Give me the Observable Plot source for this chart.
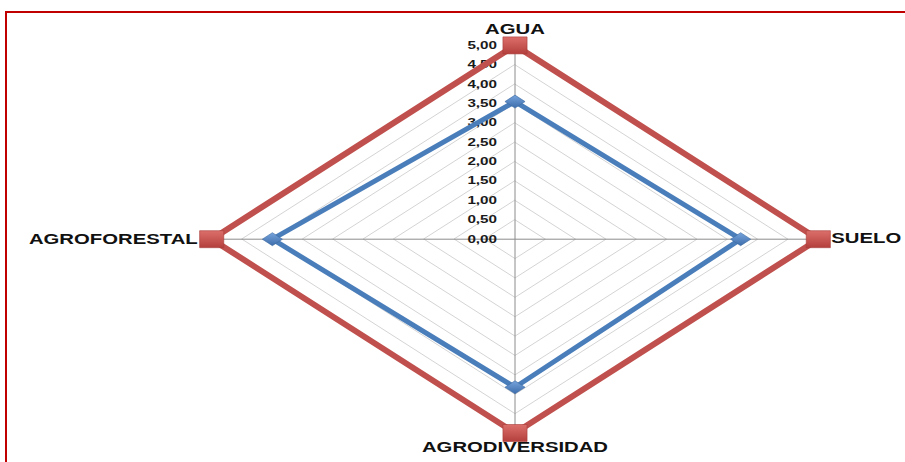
<!DOCTYPE html>
<html>
<head>
<meta charset="utf-8">
<script src="https://cdn.jsdelivr.net/npm/d3@7"></script>
<script src="https://cdn.jsdelivr.net/npm/@observablehq/plot@0.6"></script>
<style>
  body { margin: 0; background: #fff; }
  #chart { position: relative; width: 905px; height: 462px; overflow: hidden; }
  #frame { position: absolute; left: 5px; top: 11px; right: -10px; bottom: -10px;
           border-top: 2px solid #c00000; border-left: 2px solid #c00000; pointer-events: none; }
  #chart svg { display: block; }
</style>
</head>
<body>
<div id="chart"><div id="frame"></div></div>
<script>
// Radar axes, clockwise from the top
const categories = ["AGUA", "SUELO", "AGRODIVERSIDAD", "AGROFORESTAL"];
// Reference (optimum) series and the evaluated series
const maximo = [5, 5, 5, 5];
const actual = [3.55, 3.72, 3.82, 4.0];
// Radial ticks
const tickValues = [0, 0.5, 1, 1.5, 2, 2.5, 3, 3.5, 4, 4.5, 5];
const tickLabels = ["0,00", "0,50", "1,00", "1,50", "2,00", "2,50", "3,00", "3,50", "4,00", "4,50", "5,00"];

const n = categories.length;
const angle = i => (i * 2 * Math.PI) / n;
const polar = (v, i) => ({ x: v * Math.sin(angle(i)), y: v * Math.cos(angle(i)) });

const seriesPoints = (values, name) =>
  values.map((v, i) => ({ serie: name, categoria: categories[i], valor: v, ...polar(v, i) }));
const maxPts = seriesPoints(maximo, "max");
const actPts = seriesPoints(actual, "actual");

const rings = tickValues.filter(t => t > 0).flatMap(t =>
  categories.map((c, i) => ({ nivel: t, ...polar(t, i) })));
const spokes = categories.map((c, i) => ({ ...polar(tickValues[tickValues.length - 1], i) }));
const ticks = tickValues.map((t, k) => ({ label: tickLabels[k], x: 0, y: t }));
const labels = categories.map((c, i) => ({ categoria: c, ...polar(maximo[i], i) }));

// Stretched marker shapes
const rectSymbol = { draw(ctx, size) { const r = Math.sqrt(size / Math.PI); const w = r * 1.42;
  ctx.moveTo(-w, -r); ctx.lineTo(w, -r); ctx.lineTo(w, r); ctx.lineTo(-w, r); ctx.closePath(); } };
const diamondSymbol = { draw(ctx, size) { const r = Math.sqrt(size / Math.PI); const w = r * 1.55;
  ctx.moveTo(0, -r); ctx.lineTo(w, 0); ctx.lineTo(0, r); ctx.lineTo(-w, 0); ctx.closePath(); } };

const font = "'Liberation Sans', Arial, sans-serif";
const labelStyle = { fontSize: 14, fontWeight: "bold", fontFamily: font, fill: "#111" };

const svg = Plot.plot({
  width: 905,
  height: 462,
  margin: 0,
  x: { domain: [-5, 5], range: [211.2, 817.8], axis: null },
  y: { domain: [-5, 5], range: [432.5, 44.9], axis: null },
  marks: [
    Plot.line(rings, { x: "x", y: "y", z: "nivel", curve: "linear-closed", stroke: "#d4d4d4", strokeWidth: 1 }),
    Plot.link(spokes, { x1: 0, y1: 0, x2: "x", y2: "y", stroke: "#8c8c8c", strokeWidth: 1 }),
    Plot.text(ticks, { x: "x", y: "y", text: "label", textAnchor: "end", dx: -18,
      fontSize: 10.5, fontWeight: "bold", fontFamily: font, fill: "#1a1a1a" }),
    Plot.line(maxPts, { x: "x", y: "y", curve: "linear-closed", stroke: "#c0504d", strokeWidth: 6, strokeLinejoin: "miter" }),
    Plot.line(actPts, { x: "x", y: "y", curve: "linear-closed", stroke: "#4a7ebb", strokeWidth: 5, strokeLinejoin: "miter" }),
    Plot.dot(maxPts, { x: "x", y: "y", symbol: rectSymbol, r: 8.5, fill: "#c0504d", stroke: "#a63c39", strokeWidth: 0.6 }),
    Plot.dot(actPts, { x: "x", y: "y", symbol: diamondSymbol, r: 6.5, fill: "#4f81bd", stroke: "#3d6aa0", strokeWidth: 0.6 }),
    Plot.text(labels.filter((d, i) => i === 0), { x: "x", y: "y", text: "categoria", dy: -16, ...labelStyle }),
    Plot.text(labels.filter((d, i) => i === 1), { x: "x", y: "y", text: "categoria", textAnchor: "start", dx: 13, dy: -1, ...labelStyle }),
    Plot.text(labels.filter((d, i) => i === 2), { x: "x", y: "y", text: "categoria", dy: 15, ...labelStyle }),
    Plot.text(labels.filter((d, i) => i === 3), { x: "x", y: "y", text: "categoria", textAnchor: "end", dx: -14, ...labelStyle })
  ]
});

// Glossy fills for the markers
const defs = d3.select(svg).insert("defs", ":first-child");
const grad = (id, top, bottom) => {
  const g = defs.append("linearGradient").attr("id", id).attr("x1", 0).attr("y1", 0).attr("x2", 0).attr("y2", 1);
  g.append("stop").attr("offset", "0%").attr("stop-color", top);
  g.append("stop").attr("offset", "100%").attr("stop-color", bottom);
};
grad("gradRojo", "#dc6f6b", "#b43f3c");
grad("gradAzul", "#76a3dc", "#3c6dab");
const dotGroups = svg.querySelectorAll('g[aria-label="dot"]');
if (dotGroups.length >= 2) {
  d3.select(dotGroups[0]).selectAll("path").attr("fill", "url(#gradRojo)");
  d3.select(dotGroups[1]).selectAll("path").attr("fill", "url(#gradAzul)");
}

document.getElementById("chart").prepend(svg);

// Wide lettering: stretch every label's glyphs horizontally
svg.querySelectorAll("text").forEach(t => {
  const w = t.getComputedTextLength();
  if (w > 0) {
    t.setAttribute("textLength", (w * 1.45).toFixed(1));
    t.setAttribute("lengthAdjust", "spacingAndGlyphs");
  }
});
</script>
</body>
</html>
